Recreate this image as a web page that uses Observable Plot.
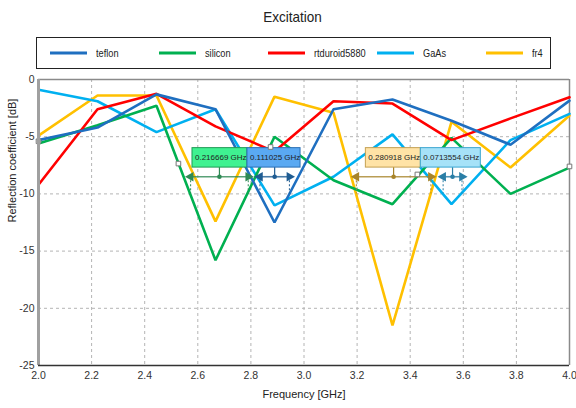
<!DOCTYPE html>
<html>
<head>
<meta charset="utf-8">
<script src="https://cdn.jsdelivr.net/npm/d3@7"></script>
<script src="https://cdn.jsdelivr.net/npm/@observablehq/plot@0.6"></script>
<style>
  html, body { margin: 0; padding: 0; background: #fff; }
  #wrap { position: relative; width: 576px; height: 408px; font-family: "Liberation Sans", Arial, sans-serif; color: #222; }
  #title { position: absolute; left: 0; top: 6.5px; width: 586px; text-align: center; font-size: 15px; line-height: 20px; }
  #title span { display: inline-block; transform: scaleX(0.9); }
  #legend { position: absolute; left: 36px; top: 37px; width: 515px; height: 32px; border: 1px solid #222; box-sizing: border-box; }
  .item { position: absolute; top: 0; height: 30px; display: flex; align-items: center; font-size: 11.5px; white-space: nowrap; }
  .item svg { margin-right: 9px; }
  .item span { display: inline-block; transform: scaleX(0.8); transform-origin: left center; }
  #chart { position: absolute; left: 0; top: 72px; }
</style>
</head>
<body>
<div id="wrap">
  <div id="title"><span>Excitation</span></div>
  <div id="legend"></div>
  <div id="chart"></div>
</div>
<script>
// ---- data ----
const freq = [2.0, 2.2222, 2.4444, 2.6667, 2.8889, 3.1111, 3.3333, 3.5556, 3.7778, 4.0];
const seriesNames = ["teflon", "silicon", "rtduroid5880", "GaAs", "fr4"];
const seriesColors = ["#1f6fc0", "#00b050", "#ff0000", "#00b0f0", "#ffc000"];
const teflon   = [-5.3, -4.2, -1.3, -2.6, -12.5, -2.6, -1.75, -3.6, -5.7, -1.85];
const silicon  = [-5.6, -4.0, -2.3, -15.8, -5.0, -8.8, -10.9, -5.1, -10.0, -7.7];
const rtduroid = [-9.2, -2.6, -1.25, -4.1, -6.3, -1.9, -2.1, -5.3, -3.4, -1.55];
const gaas     = [-0.9, -1.9, -4.6, -2.6, -11.0, -8.5, -4.8, -10.9, -5.3, -3.0];
const fr4      = [-4.9, -1.4, -1.4, -12.4, -1.5, -2.9, -21.5, -3.7, -7.7, -3.15];

const xTicks = [2.0, 2.2, 2.4, 2.6, 2.8, 3.0, 3.2, 3.4, 3.6, 3.8, 4.0];
const yTicks = [0, -5, -10, -15, -20, -25];

// bandwidth annotations (-10 dB)
const bwLabels = ["0.216669 GHz", "0.111025 GHz", "0.280918 GHz", "0.0713554 GHz"];
const bwStart  = [2.573, 2.834, 3.197, 3.524];
const bwEnd    = [2.790, 2.945, 3.478, 3.595];
const boxStart = [2.580, 2.787, 3.233, 3.440];
const boxEnd   = [2.787, 2.987, 3.440, 3.666];
const boxFill   = ["#3ff291", "#5aa9f2", "#ffe3a6", "#a6e2f8"];
const boxStroke = ["#1f9a55", "#2a6fb5", "#c4a052", "#3ba6d0"];
const arrowColor = ["#2f8a55", "#1f5c92", "#a8842a", "#2a7ea6"];
const markerX = [2.0, 2.527, 2.874, 3.427, 4.0];
const markerY = [-5.4, -7.35, -5.9, -8.3, -7.6];

const FONT = "'Liberation Sans', Arial, sans-serif";

// ---- legend ----
const legend = document.getElementById("legend");
seriesNames.forEach((n, i) => {
  const d = document.createElement("div");
  d.className = "item";
  d.style.left = (13 + i * 109) + "px";
  d.innerHTML = `<svg width="37" height="6"><line x1="0" x2="37" y1="3" y2="3" stroke="${seriesColors[i]}" stroke-width="3"/></svg><span>${n}</span>`;
  legend.appendChild(d);
});

// ---- build tables ----
const allSeries = [teflon, silicon, rtduroid, gaas, fr4];
const rows = [];
allSeries.forEach((vals, i) => vals.forEach((v, j) => rows.push({f: freq[j], v, s: seriesNames[i]})));
const drawOrder = ["fr4", "GaAs", "silicon", "rtduroid5880", "teflon"];

const bw = bwLabels.map((label, i) => ({
  label, a: bwStart[i], b: bwEnd[i], m: (bwStart[i] + bwEnd[i]) / 2,
  bx1: boxStart[i], bx2: boxEnd[i], fill: boxFill[i], stroke: boxStroke[i], col: arrowColor[i]
}));
const ends = bw.flatMap(d => [{x: d.a, col: d.col, rot: -90}, {x: d.b, col: d.col, rot: 90}]);
const markers = markerX.map((x, i) => ({x, y: markerY[i]}));

const boxTop = -6.0, boxBot = -7.7, arrowY = -8.5;

const lineMarks = drawOrder.map(name => {
  const i = seriesNames.indexOf(name);
  return Plot.line(rows.filter(r => r.s === name), {x: "f", y: "v", stroke: seriesColors[i], strokeWidth: 2.6, strokeLinejoin: "miter"});
});

const chart = Plot.plot({
  width: 576, height: 336,
  marginTop: 7, marginBottom: 43, marginLeft: 38, marginRight: 7,
  style: {fontFamily: FONT, fontSize: "10.5px", color: "#333", background: "transparent", overflow: "visible"},
  x: {domain: [2, 4]},
  y: {domain: [-25, 0]},
  marks: [
    Plot.ruleX(xTicks.slice(1, -1), {stroke: "#b4b4b4", strokeDasharray: "3,3"}),
    Plot.ruleY(yTicks.slice(1, -1), {stroke: "#b4b4b4", strokeDasharray: "3,3"}),
    Plot.ruleY([0], {stroke: "#8a8a8a", strokeWidth: 1.5}),
    Plot.ruleX([4], {stroke: "#8a8a8a", strokeWidth: 1.5}),
    ...lineMarks,
    // bandwidth dashed end lines
    Plot.ruleX(ends, {x: "x", y1: arrowY, y2: -10, stroke: "col", strokeDasharray: "2,2", strokeWidth: 1}),
    // arrow lines
    Plot.link(bw, {x1: "a", x2: "b", y1: arrowY, y2: arrowY, stroke: "col", strokeWidth: 1.6, strokeOpacity: 0.8}),
    Plot.dot(ends, {x: "x", y: arrowY, symbol: "triangle", r: 3.6, fill: "col", stroke: "none", rotate: "rot"}),
    Plot.dot(bw, {x: "m", y: arrowY, r: 2.3, fill: "col"}),
    Plot.ruleX(bw, {x: "m", y1: arrowY, y2: boxBot, stroke: "col", strokeWidth: 1.2}),
    // label boxes
    Plot.rect(bw, {x1: "bx1", x2: "bx2", y1: boxBot, y2: boxTop, fill: "fill", stroke: "stroke", strokeWidth: 1}),
    Plot.text(bw, {x: "bx1", y: (boxTop + boxBot) / 2, text: "label", textAnchor: "start", dx: 2.5, fill: "#222", fontSize: 8, fontFamily: FONT}),
    // cursor markers
    Plot.dot(markers, {x: "x", y: "y", symbol: "square", r: 2.6, fill: "white", stroke: "#777", strokeWidth: 1}),
    // frame
    Plot.ruleX([2], {stroke: "#a0a0a0", strokeWidth: 3}),
    Plot.ruleY([-25], {stroke: "#333", strokeWidth: 1.5}),
    Plot.axisX({ticks: xTicks, tickFormat: d => d.toFixed(1), tickSize: 0, tickPadding: 6, label: null, fill: "#333"}),
    Plot.axisY({ticks: yTicks, tickFormat: d => String(d), tickSize: 0, tickPadding: 4, label: null, fill: "#333"}),
    Plot.text(["Frequency [GHz]"], {frameAnchor: "bottom", dy: 32, fontSize: 11, fill: "#222"}),
    Plot.text(["Reflection coefficient [dB]"], {frameAnchor: "left", dx: -26, rotate: -90, fontSize: 11, fill: "#222"})
  ]
});
document.getElementById("chart").appendChild(chart);
</script>
</body>
</html>
